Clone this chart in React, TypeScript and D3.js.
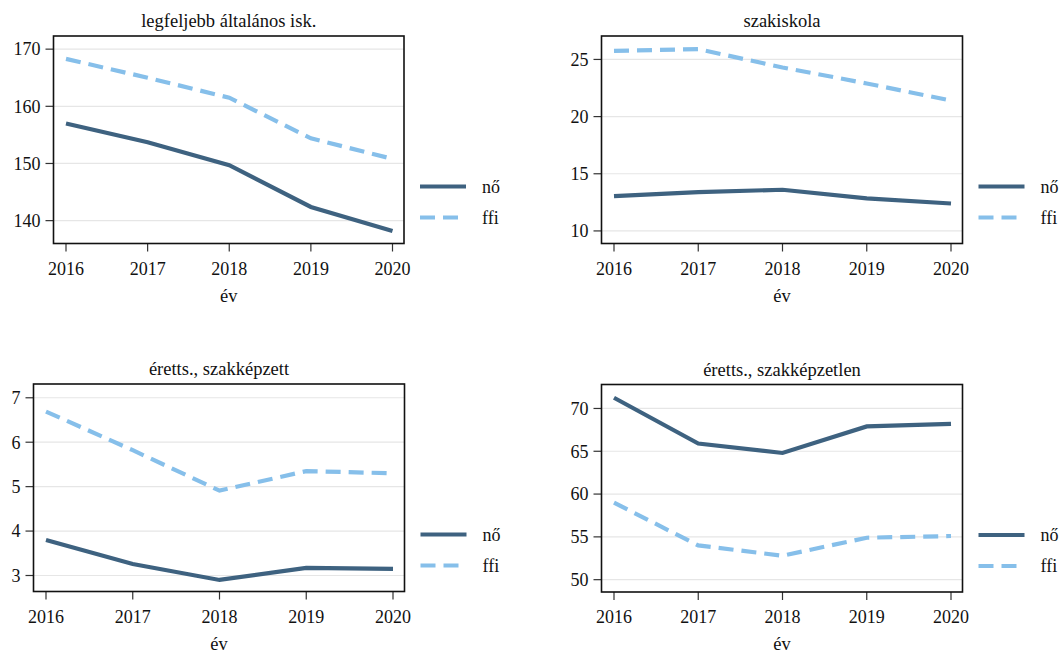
import React from 'react';
import * as d3 from 'd3';

const years = [2016, 2017, 2018, 2019, 2020];
const titles = [
  'legfeljebb általános isk.',
  'szakiskola',
  'éretts., szakképzett',
  'éretts., szakképzetlen',
];
const seriesNames = ['nő', 'ffi'];

// values
const noAltalanos = [157.0, 153.7, 149.7, 142.4, 138.2];
const ffiAltalanos = [168.3, 165.0, 161.5, 154.4, 150.8];
const noSzakiskola = [13.05, 13.4, 13.6, 12.85, 12.4];
const ffiSzakiskola = [25.75, 25.9, 24.3, 22.9, 21.4];
const noSzakkepzett = [3.8, 3.26, 2.9, 3.17, 3.15];
const ffiSzakkepzett = [6.69, 5.82, 4.91, 5.35, 5.3];
const noSzakkepzetlen = [71.25, 65.9, 64.8, 67.9, 68.2];
const ffiSzakkepzetlen = [59.0, 54.0, 52.8, 54.9, 55.1];

const yTicks = [
  [140, 150, 160, 170],
  [10, 15, 20, 25],
  [3, 4, 5, 6, 7],
  [50, 55, 60, 65, 70],
];
const yDomains = [
  [136, 172.3],
  [8.9, 27.05],
  [2.64, 7.31],
  [48.56, 72.8],
];

const panelData = [
  [noAltalanos, ffiAltalanos],
  [noSzakiskola, ffiSzakiskola],
  [noSzakkepzett, ffiSzakkepzett],
  [noSzakkepzetlen, ffiSzakkepzetlen],
];

const boxes = [
  { left: 53.5, right: 404, top: 36, bottom: 243.5 },
  { left: 601.5, right: 962.5, top: 36, bottom: 243.5 },
  { left: 33.5, right: 404.5, top: 384, bottom: 591.5 },
  { left: 601.5, right: 962.5, top: 384.5, bottom: 592 },
];

const colors = ['#3e6280', '#86bfea'];

function Panel({ i }: { i: number }) {
  const b = boxes[i];
  const x = d3.scaleLinear().domain([2016, 2020]).range([b.left + 12.5, b.right - 11.5]);
  const y = d3.scaleLinear().domain(yDomains[i]).range([b.bottom, b.top]);
  const line = d3
    .line<number>()
    .x((d, k) => x(years[k]))
    .y((d) => y(d));
  const cx = (b.left + b.right) / 2;

  return (
    <g>
      <text x={cx} y={b.top - 9} textAnchor="middle" fontSize={18.5} fill="#111">
        {titles[i]}
      </text>
      {yTicks[i].map((t) => (
        <g key={t}>
          <line x1={b.left} x2={b.right} y1={y(t)} y2={y(t)} stroke="#e6e6e6" strokeWidth={1.2} />
          <line x1={b.left - 8} x2={b.left} y1={y(t)} y2={y(t)} stroke="#333" strokeWidth={1.2} />
          <text x={b.left - 13} y={y(t)} dy="0.35em" textAnchor="end" fontSize={18} fill="#111">
            {t}
          </text>
        </g>
      ))}
      {years.map((yr) => (
        <g key={yr}>
          <line x1={x(yr)} x2={x(yr)} y1={b.bottom} y2={b.bottom + 8} stroke="#333" strokeWidth={1.2} />
          <text x={x(yr)} y={b.bottom + 31} textAnchor="middle" fontSize={18} fill="#111">
            {yr}
          </text>
        </g>
      ))}
      <text x={cx} y={b.bottom + 58} textAnchor="middle" fontSize={18.5} fill="#111">
        év
      </text>
      {panelData[i].map((vals, s) => (
        <path
          key={s}
          d={line(vals) || ''}
          fill="none"
          stroke={colors[s]}
          strokeWidth={4.2}
          strokeDasharray={s === 1 ? '15,8' : undefined}
        />
      ))}
      <rect x={b.left} y={b.top} width={b.right - b.left} height={b.bottom - b.top} fill="none" stroke="#111" strokeWidth={1.6} />
      {seriesNames.map((name, s) => {
        const ly = b.bottom - 57 + s * 31;
        return (
          <g key={name}>
            <line
              x1={b.right + 16}
              x2={b.right + 62}
              y1={ly}
              y2={ly}
              stroke={colors[s]}
              strokeWidth={4.2}
              strokeDasharray={s === 1 ? '15,8' : undefined}
            />
            <text x={b.right + 78} y={ly} dy="0.35em" fontSize={18} fill="#111">
              {name}
            </text>
          </g>
        );
      })}
    </g>
  );
}

export default function App() {
  return (
    <svg
      width={1064}
      height={653}
      style={{
        position: 'absolute',
        left: 0,
        top: 0,
        background: '#fff',
        fontFamily: "'Liberation Serif', 'DejaVu Serif', 'Times New Roman', serif",
      }}
    >
      <rect width={1064} height={653} fill="#fff" />
      {titles.map((t, i) => (
        <Panel key={t} i={i} />
      ))}
    </svg>
  );
}
